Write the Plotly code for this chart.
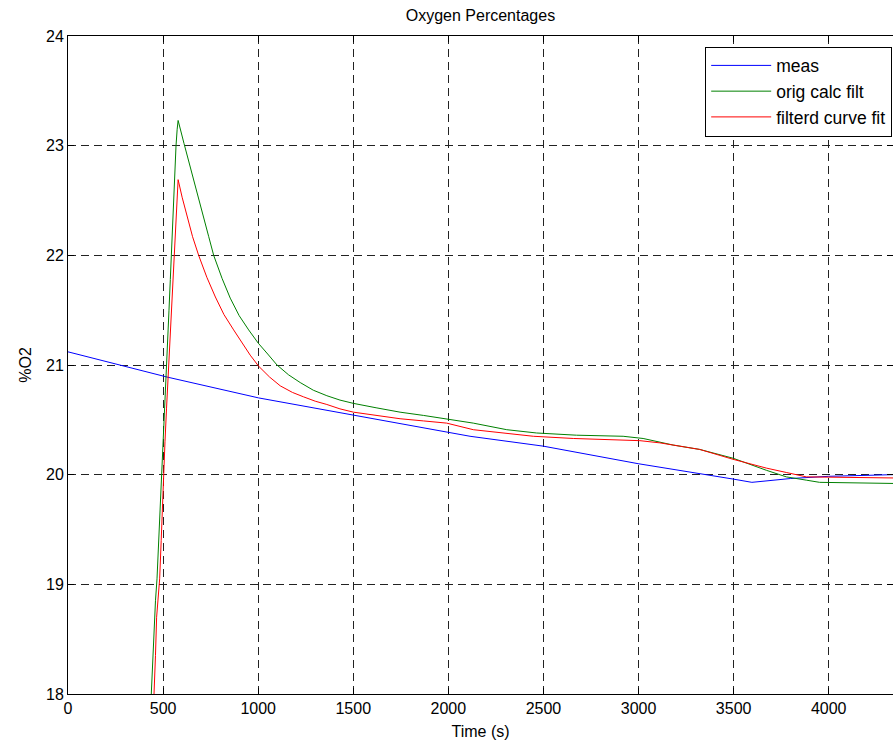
import plotly.graph_objects as go

# Measured oxygen percentage
meas_t = [0, 521, 1002, 1221, 1501, 2000, 2114, 2499, 2998, 3497, 3596, 3800, 4000, 4338]
meas_o2 = [21.12, 20.89, 20.70, 20.63, 20.54, 20.38, 20.35, 20.26, 20.10, 19.96, 19.93, 19.965, 19.985, 20.0]

# Original calculated filter output
orig_t = [434, 438, 445, 452, 460, 468, 476, 484, 492, 500, 508, 516, 524, 531, 538, 546, 554,
          561, 568, 574, 579, 610, 643, 680, 713, 740, 766, 810, 853, 900, 950, 1000, 1050,
          1099, 1160, 1221, 1290, 1361, 1430, 1501, 1620, 1746, 1870, 1991, 2131, 2307, 2464,
          2674, 2919, 3024, 3182, 3322, 3497, 3672, 3777, 3882, 3952, 4338]
orig_o2 = [17.85, 18.0, 18.3, 18.6, 18.85, 19.05, 19.35, 19.65, 19.9, 20.2, 20.55, 20.9, 21.2,
           21.5, 21.78, 22.15, 22.5, 22.8, 23.0, 23.15, 23.23, 23.02, 22.81, 22.57, 22.35,
           22.17, 22.0, 21.79, 21.61, 21.45, 21.32, 21.20, 21.10, 21.00, 20.91, 20.84, 20.77,
           20.72, 20.68, 20.65, 20.61, 20.57, 20.54, 20.51, 20.47, 20.41, 20.38, 20.36, 20.35,
           20.33, 20.27, 20.23, 20.15, 20.04, 19.98, 19.95, 19.93, 19.92]

# Filtered curve fit
fit_t = [449, 453, 460, 466, 474, 482, 490, 496, 502, 510, 518, 526, 535, 544, 552, 560, 568,
         574, 579, 600, 626, 655, 687, 730, 775, 820, 871, 915, 958, 1002, 1060, 1116, 1180,
         1238, 1300, 1361, 1430, 1501, 1620, 1746, 1870, 1991, 2131, 2307, 2447, 2657, 2919,
         3007, 3112, 3182, 3322, 3497, 3672, 3777, 3882, 4338]
fit_o2 = [17.85, 18.0, 18.35, 18.7, 18.9, 19.05, 19.4, 19.7, 20.0, 20.3, 20.6, 20.89, 21.2,
          21.5, 21.78, 22.05, 22.28, 22.5, 22.69, 22.53, 22.35, 22.17, 22.0, 21.80, 21.62,
          21.46, 21.32, 21.20, 21.09, 20.99, 20.89, 20.81, 20.75, 20.71, 20.67, 20.64, 20.60,
          20.57, 20.54, 20.51, 20.49, 20.47, 20.41, 20.38, 20.35, 20.33, 20.32, 20.31, 20.29,
          20.27, 20.23, 20.14, 20.06, 20.02, 19.98, 19.97]

x_ticks = [0, 500, 1000, 1500, 2000, 2500, 3000, 3500, 4000]
y_ticks = [18, 19, 20, 21, 22, 23, 24]

FONT = "Liberation Sans, Arial, sans-serif"

fig = go.Figure()
fig.add_trace(go.Scatter(x=meas_t, y=meas_o2, mode="lines", name="meas",
                         line=dict(color="#0000FF", width=1)))
fig.add_trace(go.Scatter(x=orig_t, y=orig_o2, mode="lines", name="orig calc filt",
                         line=dict(color="#008000", width=1)))
fig.add_trace(go.Scatter(x=fit_t, y=fit_o2, mode="lines", name="filterd curve fit",
                         line=dict(color="#FF0000", width=1)))

axis_common = dict(
    showline=True, linecolor="black", linewidth=1, mirror="ticks",
    ticks="inside", ticklen=6, tickcolor="black",
    showgrid=True, gridcolor="#222222", gridwidth=1, griddash="8px,5px",
    zeroline=False, tickfont=dict(family=FONT, size=16, color="black"),
)

fig.update_xaxes(range=[0, 4338], tickvals=x_ticks,
                 title=dict(text="Time (s)", font=dict(family=FONT, size=16, color="black"),
                            standoff=9),
                 **axis_common)
fig.update_yaxes(range=[18, 24], tickvals=y_ticks,
                 title=dict(text="%O2", font=dict(family=FONT, size=16, color="black"),
                            standoff=10),
                 **axis_common)

fig.update_layout(
    width=893, height=748,
    margin=dict(l=68, r=0, t=36, b=54),
    paper_bgcolor="white", plot_bgcolor="white",
    font=dict(family=FONT, size=16, color="black"),
    title=dict(text="Oxygen Percentages", x=0.538, xanchor="center",
               y=1 - 15 / 748, yanchor="middle", yref="container",
               font=dict(family=FONT, size=16, color="black")),
    showlegend=True,
    legend=dict(x=0.999, xanchor="right", y=0.984, yanchor="top",
                bgcolor="white", bordercolor="black", borderwidth=1,
                itemwidth=60, font=dict(family=FONT, size=17.5, color="black"),
                tracegroupgap=0),
)

fig.write_html("out.html")
